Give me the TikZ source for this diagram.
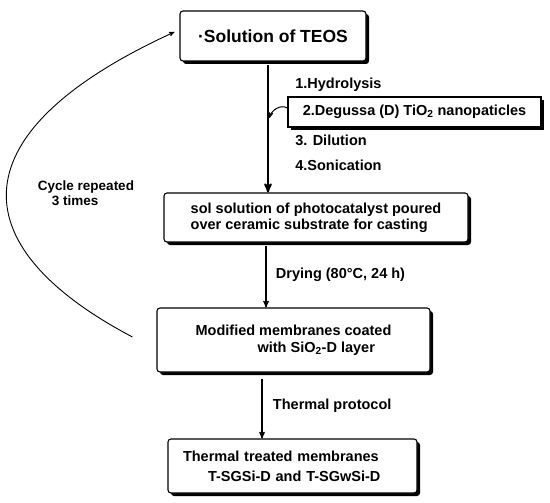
\documentclass[tikz,border=0pt]{standalone}
\usepackage{fontspec}
\setmainfont{Liberation Sans}
\usetikzlibrary{arrows,shadows}

\begin{document}
\begin{tikzpicture}[->,>=stealth',x=1pt,y=-1pt,semithick,
                    every node/.style={font=\bfseries\fontsize{14.5}{17}\selectfont}]
  \tikzstyle{box}=[draw=black,line width=1.1pt,fill=white,rounded corners=3pt,inner sep=0pt,
                   drop shadow={shadow xshift=3pt,shadow yshift=-3pt,fill=black,opacity=1}]
  \tikzstyle{flat box}=[draw=black,line width=1.1pt,fill=white,inner sep=0pt,
                   drop shadow={shadow xshift=3pt,shadow yshift=-3pt,fill=black,opacity=1}]
  \tikzstyle{item}=[anchor=west,inner sep=0pt]

  \useasboundingbox (0,0) rectangle (550,503);

  \node[box,minimum width=186pt,minimum height=50pt,
        font=\bfseries\fontsize{17.5}{20}\selectfont] (teos) at (273,36) {·Solution of TEOS};
  \node[flat box,minimum width=253pt,minimum height=30pt] (degussa) at (414.5,112)
        {2.Degussa (D) TiO\textsubscript{2} nanopaticles};
  \node[box,minimum width=304pt,minimum height=49pt,align=left,
        font=\bfseries\fontsize{14.5}{16}\selectfont] (sol) at (316,217.5)
        {sol solution of photocatalyst poured\\over ceramic substrate for casting};
  \node[box,minimum width=273pt,minimum height=64pt,align=left] (coated) at (293.5,340)
        {Modified membranes coated\\\hspace*{62pt}with SiO\textsubscript{2}-D layer};
  \node[box,minimum height=54pt,inner xsep=15pt,text width=219pt,align=left,
        font=\bfseries\fontsize{14.5}{20}\selectfont] (treated) at (292.5,466)
        {Thermal treated membranes\\\hspace*{25pt}T-SGSi-D and T-SGwSi-D};

  \node[item] (hydro)  at (295,85)  {1.Hydrolysis};
  \node[item] (dilut)  at (295,140) {3. Dilution};
  \node[item] (sonic)  at (295,165) {4.Sonication};
  \node[align=left,font=\bfseries\fontsize{13.5}{15}\selectfont] (cycle) at (86,193)
        {Cycle repeated\\\hspace*{14pt}3 times};

  % main line of the process
  \draw[line width=2pt,shorten <=3pt] ([xshift=-5pt]teos.south) -- ([xshift=-5pt]teos.south |- sol.north);
  \draw[line width=1pt] ([yshift=4pt]degussa.west) to[out=150,in=75] ++(-18,10);
  \draw[line width=1.3pt,shorten <=3pt] ([xshift=-50pt]sol.south)
        -- node[right=6pt] {Drying (80°C, 24 h)} ([xshift=-50pt]sol.south |- coated.north);
  \draw[line width=1.3pt,shorten <=6pt] ([xshift=-31.5pt]coated.south)
        -- node[right=7pt] {Thermal protocol} ([xshift=-31.5pt]coated.south |- treated.north);

  % repeat loop
  \draw[line width=0.9pt] ([xshift=-24pt,yshift=3pt]coated.west)
        .. controls (-42,245) and (-42,131) .. ([xshift=-5pt,yshift=4pt]teos.west);
\end{tikzpicture}
\end{document}
